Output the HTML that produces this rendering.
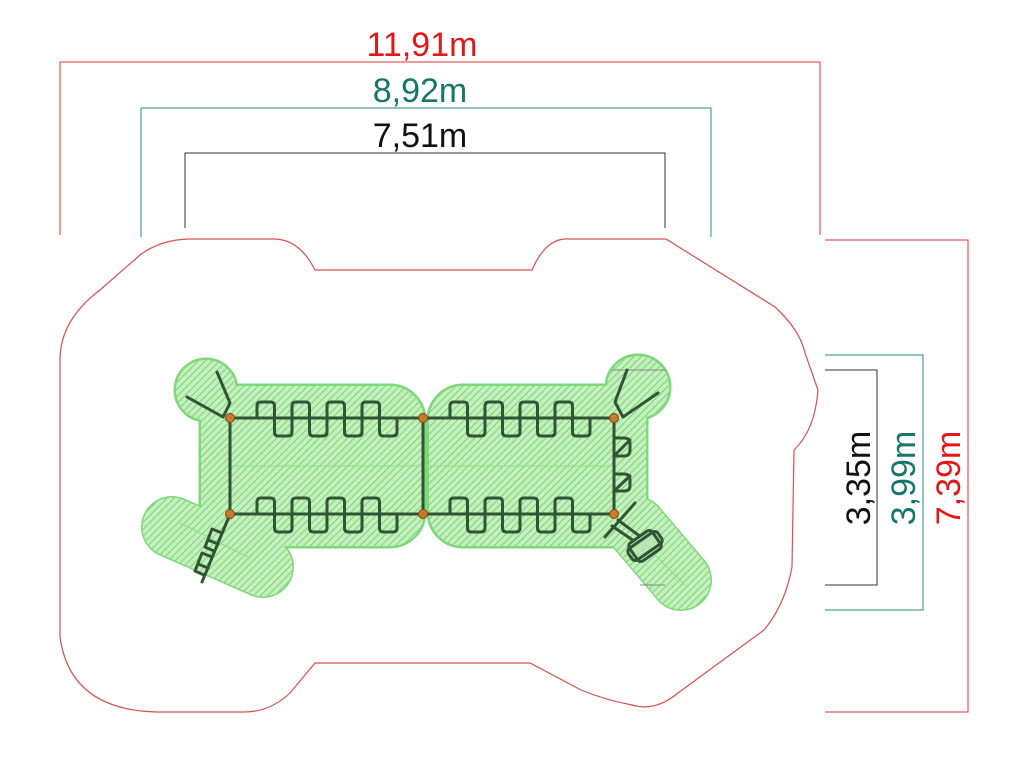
<!DOCTYPE html>
<html><head><meta charset="utf-8"><style>
html,body{margin:0;padding:0;background:#fff;}
svg{display:block;}
text{font-family:"Liberation Sans","DejaVu Sans",sans-serif;font-size:34px;}
</style></head><body>
<svg width="1024" height="768" viewBox="0 0 1024 768" xmlns="http://www.w3.org/2000/svg">
<defs>
<pattern id="h" patternUnits="userSpaceOnUse" width="5" height="5" patternTransform="rotate(45)">
<rect width="5" height="5" fill="#c4f0bd"/>
<line x1="0" y1="0" x2="0" y2="5" stroke="#6ccb66" stroke-width="1.6"/>
</pattern>
<path id="sp" d="M257 418 v-12 q0-4 4-4 h9.5 q4 0 4 4 v26 q0 4 4 4 h9.5 q4 0 4-4 v-26 q0-4 4-4 h9.5 q4 0 4 4 v26 q0 4 4 4 h9.5 q4 0 4-4 v-26 q0-4 4-4 h9.5 q4 0 4 4 v26 q0 4 4 4 h9.5 q4 0 4-4 v-26 q0-4 4-4 h9.5 q4 0 4 4 v26 q0 4 4 4 h9.5 q4 0 4-4 v-14"/>
</defs>

<g fill="none" stroke-width="1">
<path d="M60 235 V62 H820 V235" stroke="#e03030"/>
<path d="M141 237 V108 H711 V237" stroke="#2a8a80"/>
<path d="M185 228 V153 H665 V228" stroke="#333"/>
<path d="M825 240 H968 V712 H825" stroke="#e03030"/>
<path d="M825 355 H923 V610 H825" stroke="#2a8a80"/>
<path d="M825 370 H877 V585 H825" stroke="#333"/>
</g>
<text x="422" y="56" text-anchor="middle" fill="#e01818">11,91m</text>
<text x="420" y="102" text-anchor="middle" fill="#16756c">8,92m</text>
<text x="420" y="147" text-anchor="middle" fill="#111">7,51m</text>
<text transform="translate(870,478) rotate(-90)" text-anchor="middle" fill="#111">3,35m</text>
<text transform="translate(915,478) rotate(-90)" text-anchor="middle" fill="#16756c">3,99m</text>
<text transform="translate(960,478) rotate(-90)" text-anchor="middle" fill="#e01818">7,39m</text>

<path d="M188 239 H275 Q300 240 315 270 H532 Q545 240 565 239 H666 L775 307 Q800 330 805 353 L818 390 Q815 430 794 450 L792 567 Q785 605 764 630 L678 693 Q655 712 632 705 Q605 700 581 690 L530 663 H315 L290 693 Q270 712 244 712 H157 Q70 710 60 637 V360 Q60 320 100 290 L140 255 Q160 240 188 239 Z" fill="none" stroke="#d85050" stroke-width="1.2"/>

<g stroke="#7fd87a" fill="#7fd87a">
<circle cx="206" cy="390" r="32"/>
<circle cx="638" cy="387" r="33"/>
<rect x="199" y="384" width="227" height="164" rx="36"/>
<rect x="427" y="384" width="221" height="164" rx="36"/>
<line x1="172" y1="527" x2="263" y2="567" stroke-width="62" stroke-linecap="round"/>
<line x1="636" y1="527" x2="681" y2="580" stroke-width="62" stroke-linecap="round"/>
</g>
<g stroke="url(#h)" fill="url(#h)">
<circle cx="206" cy="390" r="30" stroke="none"/>
<circle cx="638" cy="387" r="31" stroke="none"/>
<rect x="201" y="386" width="223" height="160" rx="34" stroke="none"/>
<rect x="429" y="386" width="217" height="160" rx="34" stroke="none"/>
<line x1="172" y1="527" x2="263" y2="567" stroke-width="59" stroke-linecap="round"/>
<line x1="636" y1="527" x2="681" y2="580" stroke-width="59" stroke-linecap="round"/>
</g>
<line x1="232" y1="466" x2="612" y2="466" stroke="#8fe08a" stroke-width="1"/>
<line x1="180" y1="523" x2="250" y2="558" stroke="#8fe08a" stroke-width="1"/>
<line x1="650" y1="550" x2="685" y2="585" stroke="#8fe08a" stroke-width="1"/>
<line x1="612" y1="370" x2="666" y2="370" stroke="#888" stroke-width="1"/>
<line x1="640" y1="585" x2="665" y2="585" stroke="#888" stroke-width="1"/>

<g stroke="#2f5535" stroke-width="3" fill="none" stroke-linejoin="round" stroke-linecap="round">
<rect x="230" y="418" width="384" height="96"/>
<line x1="423" y1="418" x2="423" y2="514"/>
<use href="#sp"/>
<use href="#sp" transform="translate(193,0)"/>
<use href="#sp" transform="translate(0,96)"/>
<use href="#sp" transform="translate(193,96)"/>
<path d="M187 397 L223 417 L230 403 L217 372"/>
<path d="M658 393 L623 417 L615 402 L627 370"/>
<path d="M614 438 H624 Q630 438 630 444 V450 Q630 456 624 456 H614 M614 456 L630 440"/>
<path d="M614 474 H624 Q630 474 630 480 V486 Q630 491 624 491 H614 M614 491 L630 476"/>
<path d="M230 514 L202 582"/>
<path d="M222 533 L212 529 L205 547 L214 551 M208 540 L218 544"/>
<path d="M212 557 L202 553 L195 571 L204 575 M198 564 L208 568"/>
<path d="M605 537 L635 503"/>
<path d="M612 526 L640 545 M618 520 L645 540"/>
<g transform="translate(645,546) rotate(-35)">
<rect x="-14" y="-11" width="28" height="22" rx="4" fill="#b8e8b2"/>
<rect x="-18" y="-7" width="36" height="14" rx="4"/>
</g>
</g>
<g fill="#c87a2a" stroke="#7a4a10" stroke-width="1">
<circle cx="230" cy="418" r="4.5"/><circle cx="423" cy="418" r="4.5"/><circle cx="614" cy="418" r="4.5"/>
<circle cx="230" cy="514" r="4.5"/><circle cx="423" cy="514" r="4.5"/><circle cx="614" cy="514" r="4.5"/>
</g>
</svg>
</body></html>
